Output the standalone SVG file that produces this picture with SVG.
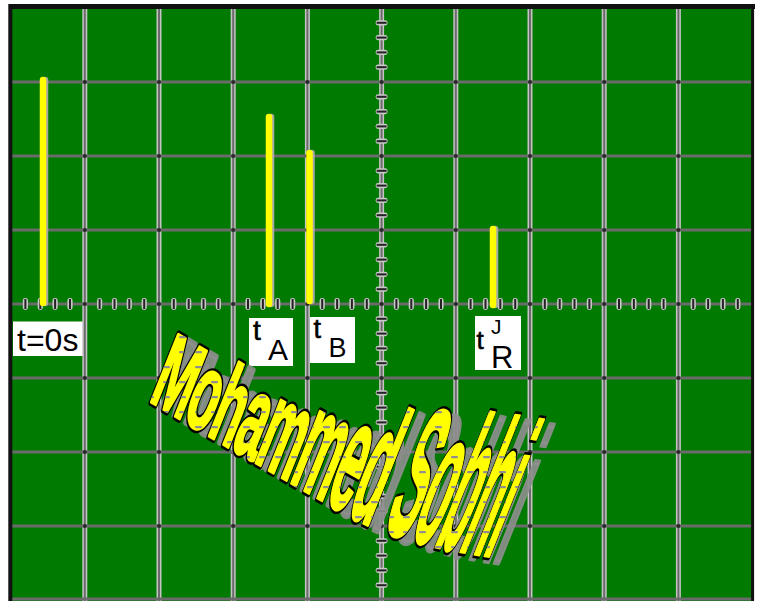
<svg xmlns="http://www.w3.org/2000/svg" xmlns:xlink="http://www.w3.org/1999/xlink" width="757" height="601" viewBox="0 0 757 601">
<style>
.hl{stroke:#6b6b6b;stroke-width:3;fill:none}
.vhalo{stroke:#c4c4c4;stroke-width:5;fill:none}
.vl{stroke:#6b6b6b;stroke-width:2;fill:none}
.pulse{stroke:#ffff00;stroke-width:6.5;stroke-linecap:round;fill:none}
.pshadow{stroke:#a8a8a8;stroke-width:6.5;stroke-linecap:round;fill:none}
.box{fill:#ffffff}
.lbl{font-family:"Liberation Sans",Arial,sans-serif;fill:#000}
.dot{fill:#2a2a2a}
</style>
<defs>
<g id="tx"><rect x="-2.6" y="-6" width="5.2" height="12" rx="2.4" fill="#c8c8c8"/><line x1="0" y1="-5" x2="0" y2="5" stroke="#222" stroke-width="2"/></g>
<g id="tv"><rect x="-6" y="-2.6" width="12" height="5.2" rx="2.4" fill="#c8c8c8"/><line x1="-5" y1="0" x2="5" y2="0" stroke="#222" stroke-width="2"/></g>
<g id="word" font-family="Liberation Sans, Arial, sans-serif" font-weight="bold" font-size="100">
<text transform="matrix(0.42 0.248 -0.392 0.98 148 400)" vector-effect="non-scaling-stroke">M</text>
<text transform="matrix(0.42 0.248 -0.4 1 181.3 419.5)" vector-effect="non-scaling-stroke">o</text>
<text transform="matrix(0.42 0.244 -0.408 1.02 205.7 434)" vector-effect="non-scaling-stroke">h</text>
<text transform="matrix(0.42 0.239 -0.432 1.08 230.2 448)" vector-effect="non-scaling-stroke">a</text>
<text transform="matrix(0.42 0.239 -0.472 1.18 252.4 460.7)" vector-effect="non-scaling-stroke">m</text>
<text transform="matrix(0.42 0.239 -0.54 1.35 288 481)" vector-effect="non-scaling-stroke">m</text>
<text transform="matrix(0.42 0.231 -0.592 1.48 323.6 501.3)" vector-effect="non-scaling-stroke">e</text>
<text transform="matrix(0.42 0.21 -0.632 1.58 345.8 514)" vector-effect="non-scaling-stroke">d</text>
<text transform="matrix(0.42 0.147 -0.712 1.78 381.3 530)" vector-effect="non-scaling-stroke">S</text>
<text transform="matrix(0.42 0.126 -0.728 1.82 408 538.5)" vector-effect="non-scaling-stroke">o</text>
<text transform="matrix(0.42 0.092 -0.744 1.86 432.4 546)" vector-effect="non-scaling-stroke">b</text>
<text transform="matrix(0.42 0.071 -0.752 1.88 456.9 551)" vector-effect="non-scaling-stroke">h</text>
<text transform="matrix(0.42 0.063 -0.752 1.88 481.3 555)" vector-effect="non-scaling-stroke">i</text>
</g>
<pattern id="dash" patternUnits="userSpaceOnUse" width="16" height="15">
<rect x="3" y="6" width="7" height="2.2" rx="1" fill="#8f8f8f"/>
</pattern>
<mask id="wm" maskUnits="userSpaceOnUse" x="0" y="0" width="757" height="601">
<use xlink:href="#word" fill="#fff" stroke="#fff" stroke-width="2.5" stroke-linejoin="round"/>
</mask>
</defs>

<rect x="0" y="0" width="757" height="601" fill="#ffffff"/>
<rect id="screen" x="11" y="8" width="741" height="600" fill="#007a00"/>

<g id="labels-boxes">
<rect class="box" x="13" y="321.5" width="73" height="34.5"/>
<rect class="box" x="249" y="318" width="44" height="48"/>
<rect class="box" x="310" y="317" width="45" height="46"/>
<rect class="box" x="475" y="316" width="46" height="54"/>
</g>

<g id="grid">
<g id="verticals">
<line class="vhalo" x1="84.8" y1="9" x2="84.8" y2="601"/><line class="vl" x1="84.8" y1="9" x2="84.8" y2="601"/>
<line class="vhalo" x1="159" y1="9" x2="159" y2="601"/><line class="vl" x1="159" y1="9" x2="159" y2="601"/>
<line class="vhalo" x1="233.2" y1="9" x2="233.2" y2="601"/><line class="vl" x1="233.2" y1="9" x2="233.2" y2="601"/>
<line class="vhalo" x1="307.4" y1="9" x2="307.4" y2="601"/><line class="vl" x1="307.4" y1="9" x2="307.4" y2="601"/>
<line class="vhalo" x1="381.6" y1="9" x2="381.6" y2="601"/><line class="vl" x1="381.6" y1="9" x2="381.6" y2="601"/>
<line class="vhalo" x1="455.8" y1="9" x2="455.8" y2="601"/><line class="vl" x1="455.8" y1="9" x2="455.8" y2="601"/>
<line class="vhalo" x1="530" y1="9" x2="530" y2="601"/><line class="vl" x1="530" y1="9" x2="530" y2="601"/>
<line class="vhalo" x1="604.2" y1="9" x2="604.2" y2="601"/><line class="vl" x1="604.2" y1="9" x2="604.2" y2="601"/>
<line class="vhalo" x1="678.4" y1="9" x2="678.4" y2="601"/><line class="vl" x1="678.4" y1="9" x2="678.4" y2="601"/>
</g>
<g id="horizontals">
<line class="hl" x1="11" y1="82" x2="752" y2="82"/>
<line class="hl" x1="11" y1="156" x2="752" y2="156"/>
<line class="hl" x1="11" y1="230" x2="752" y2="230"/>
<line class="hl" x1="11" y1="304" x2="752" y2="304"/>
<line class="hl" x1="11" y1="378" x2="752" y2="378"/>
<line class="hl" x1="11" y1="452" x2="752" y2="452"/>
<line class="hl" x1="11" y1="526" x2="752" y2="526"/>
<line class="hl" x1="11" y1="599" x2="752" y2="599"/>
</g>
<g id="ticks-h">
<use xlink:href="#tx" x="25.4" y="304"/><use xlink:href="#tx" x="40.3" y="304"/><use xlink:href="#tx" x="55.1" y="304"/><use xlink:href="#tx" x="70" y="304"/>
<use xlink:href="#tx" x="99.6" y="304"/><use xlink:href="#tx" x="114.5" y="304"/><use xlink:href="#tx" x="129.3" y="304"/><use xlink:href="#tx" x="144.2" y="304"/>
<use xlink:href="#tx" x="173.8" y="304"/><use xlink:href="#tx" x="188.7" y="304"/><use xlink:href="#tx" x="203.5" y="304"/><use xlink:href="#tx" x="218.4" y="304"/>
<use xlink:href="#tx" x="248" y="304"/><use xlink:href="#tx" x="262.9" y="304"/><use xlink:href="#tx" x="277.7" y="304"/><use xlink:href="#tx" x="292.6" y="304"/>
<use xlink:href="#tx" x="322.2" y="304"/><use xlink:href="#tx" x="337.1" y="304"/><use xlink:href="#tx" x="351.9" y="304"/><use xlink:href="#tx" x="366.8" y="304"/>
<use xlink:href="#tx" x="396.4" y="304"/><use xlink:href="#tx" x="411.3" y="304"/><use xlink:href="#tx" x="426.1" y="304"/><use xlink:href="#tx" x="441" y="304"/>
<use xlink:href="#tx" x="470.6" y="304"/><use xlink:href="#tx" x="485.5" y="304"/><use xlink:href="#tx" x="500.3" y="304"/><use xlink:href="#tx" x="515.2" y="304"/>
<use xlink:href="#tx" x="544.8" y="304"/><use xlink:href="#tx" x="559.7" y="304"/><use xlink:href="#tx" x="574.5" y="304"/><use xlink:href="#tx" x="589.4" y="304"/>
<use xlink:href="#tx" x="619" y="304"/><use xlink:href="#tx" x="633.9" y="304"/><use xlink:href="#tx" x="648.7" y="304"/><use xlink:href="#tx" x="663.6" y="304"/>
<use xlink:href="#tx" x="693.2" y="304"/><use xlink:href="#tx" x="708.1" y="304"/><use xlink:href="#tx" x="722.9" y="304"/><use xlink:href="#tx" x="737.8" y="304"/>
</g>
<g id="ticks-v">
<use xlink:href="#tv" x="381.6" y="22.8"/><use xlink:href="#tv" x="381.6" y="37.6"/><use xlink:href="#tv" x="381.6" y="52.4"/><use xlink:href="#tv" x="381.6" y="67.2"/>
<use xlink:href="#tv" x="381.6" y="96.8"/><use xlink:href="#tv" x="381.6" y="111.6"/><use xlink:href="#tv" x="381.6" y="126.4"/><use xlink:href="#tv" x="381.6" y="141.2"/>
<use xlink:href="#tv" x="381.6" y="170.8"/><use xlink:href="#tv" x="381.6" y="185.6"/><use xlink:href="#tv" x="381.6" y="200.4"/><use xlink:href="#tv" x="381.6" y="215.2"/>
<use xlink:href="#tv" x="381.6" y="244.8"/><use xlink:href="#tv" x="381.6" y="259.6"/><use xlink:href="#tv" x="381.6" y="274.4"/><use xlink:href="#tv" x="381.6" y="289.2"/>
<use xlink:href="#tv" x="381.6" y="318.8"/><use xlink:href="#tv" x="381.6" y="333.6"/><use xlink:href="#tv" x="381.6" y="348.4"/><use xlink:href="#tv" x="381.6" y="363.2"/>
<use xlink:href="#tv" x="381.6" y="392.8"/><use xlink:href="#tv" x="381.6" y="407.6"/><use xlink:href="#tv" x="381.6" y="422.4"/><use xlink:href="#tv" x="381.6" y="437.2"/>
<use xlink:href="#tv" x="381.6" y="466.8"/><use xlink:href="#tv" x="381.6" y="481.6"/><use xlink:href="#tv" x="381.6" y="496.4"/><use xlink:href="#tv" x="381.6" y="511.2"/>
<use xlink:href="#tv" x="381.6" y="540.8"/><use xlink:href="#tv" x="381.6" y="555.6"/><use xlink:href="#tv" x="381.6" y="570.4"/><use xlink:href="#tv" x="381.6" y="585.2"/>
</g>
<g id="intersections">
<circle class="dot" cx="84.8" cy="82" r="2"/><circle class="dot" cx="159" cy="82" r="2"/><circle class="dot" cx="233.2" cy="82" r="2"/><circle class="dot" cx="307.4" cy="82" r="2"/><circle class="dot" cx="381.6" cy="82" r="2"/><circle class="dot" cx="455.8" cy="82" r="2"/><circle class="dot" cx="530" cy="82" r="2"/><circle class="dot" cx="604.2" cy="82" r="2"/><circle class="dot" cx="678.4" cy="82" r="2"/>
<circle class="dot" cx="84.8" cy="156" r="2"/><circle class="dot" cx="159" cy="156" r="2"/><circle class="dot" cx="233.2" cy="156" r="2"/><circle class="dot" cx="307.4" cy="156" r="2"/><circle class="dot" cx="381.6" cy="156" r="2"/><circle class="dot" cx="455.8" cy="156" r="2"/><circle class="dot" cx="530" cy="156" r="2"/><circle class="dot" cx="604.2" cy="156" r="2"/><circle class="dot" cx="678.4" cy="156" r="2"/>
<circle class="dot" cx="84.8" cy="230" r="2"/><circle class="dot" cx="159" cy="230" r="2"/><circle class="dot" cx="233.2" cy="230" r="2"/><circle class="dot" cx="307.4" cy="230" r="2"/><circle class="dot" cx="381.6" cy="230" r="2"/><circle class="dot" cx="455.8" cy="230" r="2"/><circle class="dot" cx="530" cy="230" r="2"/><circle class="dot" cx="604.2" cy="230" r="2"/><circle class="dot" cx="678.4" cy="230" r="2"/>
<circle class="dot" cx="84.8" cy="304" r="2"/><circle class="dot" cx="159" cy="304" r="2"/><circle class="dot" cx="233.2" cy="304" r="2"/><circle class="dot" cx="307.4" cy="304" r="2"/><circle class="dot" cx="381.6" cy="304" r="2"/><circle class="dot" cx="455.8" cy="304" r="2"/><circle class="dot" cx="530" cy="304" r="2"/><circle class="dot" cx="604.2" cy="304" r="2"/><circle class="dot" cx="678.4" cy="304" r="2"/>
<circle class="dot" cx="84.8" cy="378" r="2"/><circle class="dot" cx="159" cy="378" r="2"/><circle class="dot" cx="233.2" cy="378" r="2"/><circle class="dot" cx="307.4" cy="378" r="2"/><circle class="dot" cx="381.6" cy="378" r="2"/><circle class="dot" cx="455.8" cy="378" r="2"/><circle class="dot" cx="530" cy="378" r="2"/><circle class="dot" cx="604.2" cy="378" r="2"/><circle class="dot" cx="678.4" cy="378" r="2"/>
<circle class="dot" cx="84.8" cy="452" r="2"/><circle class="dot" cx="159" cy="452" r="2"/><circle class="dot" cx="233.2" cy="452" r="2"/><circle class="dot" cx="307.4" cy="452" r="2"/><circle class="dot" cx="381.6" cy="452" r="2"/><circle class="dot" cx="455.8" cy="452" r="2"/><circle class="dot" cx="530" cy="452" r="2"/><circle class="dot" cx="604.2" cy="452" r="2"/><circle class="dot" cx="678.4" cy="452" r="2"/>
<circle class="dot" cx="84.8" cy="526" r="2"/><circle class="dot" cx="159" cy="526" r="2"/><circle class="dot" cx="233.2" cy="526" r="2"/><circle class="dot" cx="307.4" cy="526" r="2"/><circle class="dot" cx="381.6" cy="526" r="2"/><circle class="dot" cx="455.8" cy="526" r="2"/><circle class="dot" cx="530" cy="526" r="2"/><circle class="dot" cx="604.2" cy="526" r="2"/><circle class="dot" cx="678.4" cy="526" r="2"/>
</g>
</g>

<g id="border" fill="none" stroke="#111">
<line x1="10" y1="6.5" x2="755" y2="6.5" stroke-width="5"/>
<line x1="10.3" y1="4" x2="10.3" y2="601" stroke-width="4"/>
<line x1="752.6" y1="4" x2="752.6" y2="601" stroke-width="3"/>
</g>

<g id="pulses">
<line class="pshadow" x1="45" y1="80" x2="45" y2="303"/><line class="pulse" x1="43" y1="80" x2="43" y2="303"/>
<line class="pshadow" x1="271" y1="117" x2="271" y2="304"/><line class="pulse" x1="269" y1="117" x2="269" y2="304"/>
<line class="pshadow" x1="311.5" y1="153" x2="311.5" y2="301"/><line class="pulse" x1="309.5" y1="153" x2="309.5" y2="301"/>
<line class="pshadow" x1="495" y1="229" x2="495" y2="305"/><line class="pulse" x1="493" y1="229" x2="493" y2="305"/>
</g>

<g id="labels" class="lbl">
<text x="17" y="351" font-size="32">t=0s</text>
<text x="253" y="340" font-size="28" stroke="#000" stroke-width="0.6">t</text><text x="268" y="360" font-size="30">A</text>
<text x="313.5" y="338" font-size="27" stroke="#000" stroke-width="0.6">t</text><text x="328.5" y="357" font-size="27">B</text>
<text x="476.5" y="349" font-size="26" stroke="#000" stroke-width="0.6">t</text><text x="491" y="334" font-size="21">J</text><text x="491" y="367.5" font-size="31">R</text>
</g>

<g id="wordart">
<use xlink:href="#word" transform="translate(10,6)" fill="#8e8e8e" fill-opacity="0.9" stroke="#8e8e8e" stroke-opacity="0.9" stroke-width="5" stroke-linejoin="round"/>
<use xlink:href="#word" fill="#000" stroke="#000" stroke-width="6.5" stroke-linejoin="round"/>
<use xlink:href="#word" fill="#ffff00" stroke="#ffff00" stroke-width="2.5" stroke-linejoin="round"/>
<rect x="100" y="300" width="500" height="300" fill="url(#dash)" mask="url(#wm)"/>
</g>
</svg>
